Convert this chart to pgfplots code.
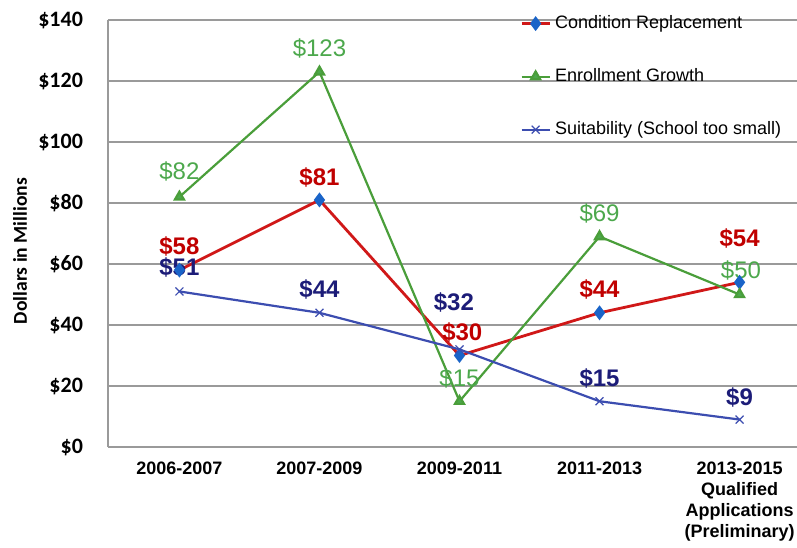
\documentclass[border=0pt]{standalone}
\usepackage{pgfplots}
\pgfplotsset{compat=1.18}
\usepackage{fontspec}
\setmainfont{Liberation Sans}
\newfontfamily\carlito{Carlito}
\usetikzlibrary{calc}

\definecolor{redline}{HTML}{D01818}
\definecolor{redlab}{HTML}{C00000}
\definecolor{greenline}{HTML}{4A9E3A}
\definecolor{greenlab}{HTML}{4CA84C}
\definecolor{blueline}{HTML}{3C4DB0}
\definecolor{bluelab}{HTML}{1C1C78}
\definecolor{diamond}{HTML}{1A64C8}
\definecolor{gridgray}{HTML}{9A9A9A}

\begin{document}
\begin{tikzpicture}
\begin{axis}[
    scale only axis,
    width=344.5pt, height=213.5pt,
    xmin=-0.51, xmax=4.41,
    ymin=0, ymax=140,
    xtick={0,1,2,3,4},
    xticklabels={2006-2007,2007-2009,2009-2011,2011-2013,{2013-2015\\Qualified\\Applications\\(Preliminary)}},
    xticklabel style={font=\bfseries\fontsize{9}{10.5}\selectfont, align=center, anchor=north, yshift=-4pt},
    ytick={0,20,...,140},
    yticklabel={\carlito\bfseries\$\pgfmathprintnumber{\tick}},
    yticklabel style={font=\fontsize{11}{12}\selectfont, xshift=-9pt},
    /pgf/number format/assume math mode=true,
    ylabel={\carlito\bfseries Dollars in Millions},
    ylabel style={font=\fontsize{9.8}{12}\selectfont, at={(axis description cs:0,0.5)}, anchor=south, xshift=-8.75pt, yshift=37pt},
    major tick length=0pt,
    ymajorgrids,
    grid style={gridgray, line width=0.6pt},
    axis x line*=bottom, axis y line*=left,
    axis line style={gridgray, line width=0.6pt},
    clip=false,
    legend style={at={(0.589,1.03)}, anchor=north west, draw=none, fill=none,
        font=\fontsize{9}{10.5}\selectfont, row sep=14.5pt,
        /tikz/every even column/.append style={column sep=1pt}},
    legend cell align=left,
    legend image code/.code={
        \draw[#1] (0pt,0pt) -- (14pt,0pt);
        \draw[#1, only marks] plot coordinates {(7pt,0pt)};
    },
]
\addplot[redline, line width=1.4pt, mark=diamond*, mark size=2.6pt,
    mark options={fill=diamond, draw=diamond}]
    coordinates {(0,58) (1,81) (2,30) (3,44) (4,54)};
\addlegendentry{Condition Replacement}
\addplot[greenline, line width=1.1pt, mark=triangle*, mark size=2.6pt,
    mark options={fill=greenlab, draw=greenline}]
    coordinates {(0,82) (1,123) (2,15) (3,69) (4,50)};
\addlegendentry{Enrollment Growth}
\addplot[blueline, line width=1.1pt, mark=x, mark size=2.8pt,
    mark options={draw=blueline, line width=0.6pt}]
    coordinates {(0,51) (1,44) (2,32) (3,15) (4,9)};
\addlegendentry{Suitability (School too small)}

% data labels
\begin{scope}[font=\fontsize{12}{12}\selectfont]
\node[greenlab] at (axis cs:0,90.2) {\$82};
\node[greenlab] at (axis cs:1,130.8) {\$123};
\node[greenlab] at (axis cs:2,22.6) {\$15};
\node[greenlab] at (axis cs:3,76.7) {\$69};
\node[greenlab] at (axis cs:4.01,58) {\$50};
\node[redlab, font=\bfseries\fontsize{12}{12}\selectfont] at (axis cs:0,65.9) {\$58};
\node[redlab, font=\bfseries\fontsize{12}{12}\selectfont] at (axis cs:1,88.5) {\$81};
\node[redlab, font=\bfseries\fontsize{12}{12}\selectfont] at (axis cs:2.02,37.4) {\$30};
\node[redlab, font=\bfseries\fontsize{12}{12}\selectfont] at (axis cs:3,51.5) {\$44};
\node[redlab, font=\bfseries\fontsize{12}{12}\selectfont] at (axis cs:4,68.5) {\$54};
\node[bluelab, font=\bfseries\fontsize{12}{12}\selectfont] at (axis cs:0,58.7) {\$51};
\node[bluelab, font=\bfseries\fontsize{12}{12}\selectfont] at (axis cs:1,51.5) {\$44};
\node[bluelab, font=\bfseries\fontsize{12}{12}\selectfont] at (axis cs:1.96,47.5) {\$32};
\node[bluelab, font=\bfseries\fontsize{12}{12}\selectfont] at (axis cs:3,22.6) {\$15};
\node[bluelab, font=\bfseries\fontsize{12}{12}\selectfont] at (axis cs:4,16.4) {\$9};
\end{scope}
\end{axis}
\pgfresetboundingbox
\path[use as bounding box] ($(current axis.south west)+(-54pt,-50pt)$) rectangle ($(current axis.north east)+(0pt,10pt)$);
\end{tikzpicture}
\end{document}
